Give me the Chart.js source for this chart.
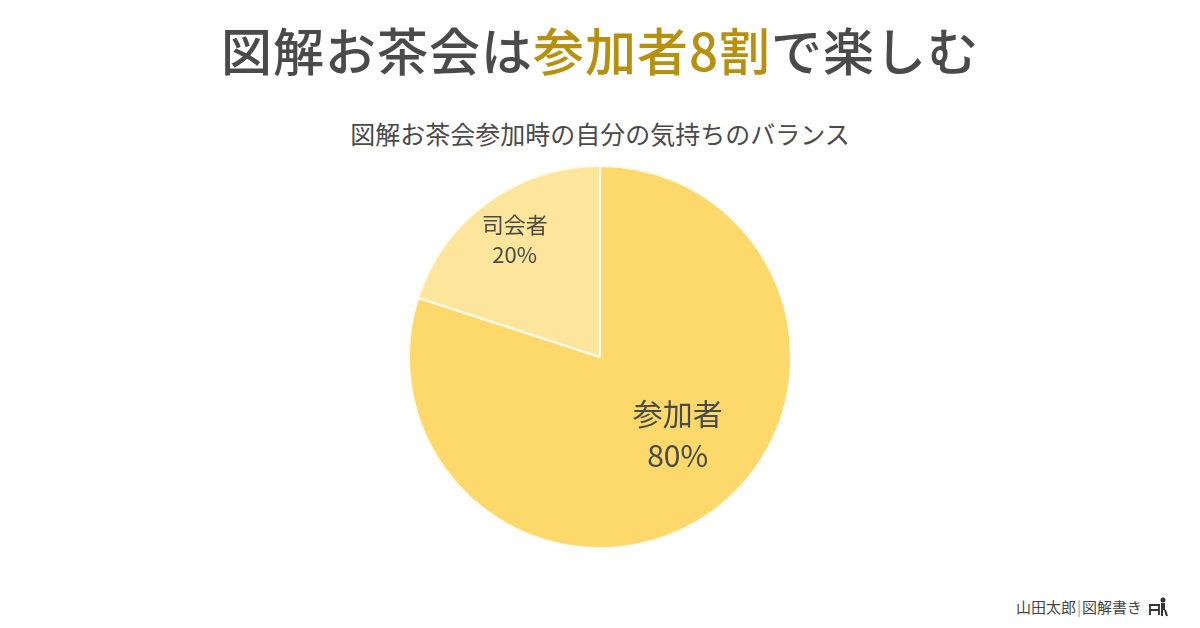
<!DOCTYPE html>
<html lang="ja">
<head>
<meta charset="utf-8">
<script src="https://cdn.jsdelivr.net/npm/chart.js@4/dist/chart.umd.min.js"></script>
<style>
  html, body { margin: 0; padding: 0; background: #fff; }
  body { width: 1200px; height: 628px; position: relative; overflow: hidden;
         font-family: "Noto Sans CJK JP", "Noto Sans", sans-serif; color: #4a4a4a; }
  #title { position: absolute; left: 0; top: 13px; width: 1200px; text-align: center;
           font-size: 51px; font-weight: 500; line-height: 72px; letter-spacing: 1px; }
  #title .hl { color: #b8900e; }
  #subtitle { position: absolute; left: 0; top: 116px; width: 1200px; text-align: center;
              font-size: 25px; line-height: 34px; color: #4a4a4a; }
  #wrap { position: absolute; left: 0; top: 165px; width: 1200px; height: 384px; }
  #sign { position: absolute; right: 30px; top: 596px; font-size: 15px; color: #444;
          display: flex; align-items: center; gap: 6px; }
  #sign .bar { color: #999; margin: 0 1px; }
</style>
</head>
<body>
<div id="title">図解お茶会は<span class="hl">参加者8割</span>で楽しむ</div>
<div id="subtitle">図解お茶会参加時の自分の気持ちのバランス</div>
<div id="wrap"><canvas id="pie"></canvas></div>
<div id="sign">
  <span>山田太郎<span class="bar">|</span>図解書き</span>
  <svg width="22" height="20" viewBox="0 0 22 20">
    <circle cx="15" cy="3" r="2.5" fill="#333"/>
    <path d="M13 6 h4 v7 h-4 z" fill="#333"/>
    <path d="M17 13 l2 6 M14 13 v6" stroke="#333" stroke-width="2"/>
    <path d="M1 8 h11 M2 8 v10 M11 8 v10 M2 13 h9" stroke="#333" stroke-width="1.8" fill="none"/>
  </svg>
</div>
<script>
// 図解お茶会参加時の気持ちのバランス
var labels = ["参加者", "司会者"];
var values = [80, 20];
var colors = ["#fdd86b", "#fee59c"];

// スライスの中にラベルを描く
var sliceLabels = {
  id: "sliceLabels",
  afterDatasetsDraw: function (chart) {
    var ctx = chart.ctx;
    var meta = chart.getDatasetMeta(0);
    var total = values.reduce(function (a, b) { return a + b; }, 0);
    meta.data.forEach(function (arc, i) {
      var p = arc.getProps(["x", "y", "startAngle", "endAngle", "outerRadius"], true);
      var big = values[i] / total > 0.5;
      var mid = (p.startAngle + p.endAngle) / 2;
      if (big) mid -= Math.PI / 20; // 大きいスライスは少し右寄せ
      var r = p.outerRadius * (big ? 0.575 : 0.76);
      var x = p.x + Math.cos(mid) * r;
      var y = p.y + Math.sin(mid) * r;
      var size = big ? 30 : 22;
      var gap = big ? 21 : 15;
      ctx.save();
      ctx.fillStyle = "#4a4a4a";
      ctx.textAlign = "center";
      ctx.textBaseline = "middle";
      ctx.font = size + 'px "Noto Sans CJK JP", sans-serif';
      ctx.fillText(labels[i], x, y - gap);
      ctx.fillText(Math.round(values[i] / total * 100) + "%", x, y + gap);
      ctx.restore();
    });
  }
};

new Chart(document.getElementById("pie"), {
  type: "pie",
  data: {
    labels: labels,
    datasets: [{
      data: values,
      backgroundColor: colors,
      borderColor: "#fffbee",
      borderWidth: 2
    }]
  },
  options: {
    responsive: true,
    maintainAspectRatio: false,
    animation: false,
    layout: { padding: 0 },
    plugins: {
      legend: { display: false },
      tooltip: { enabled: false }
    }
  },
  plugins: [sliceLabels]
});
</script>
</body>
</html>
